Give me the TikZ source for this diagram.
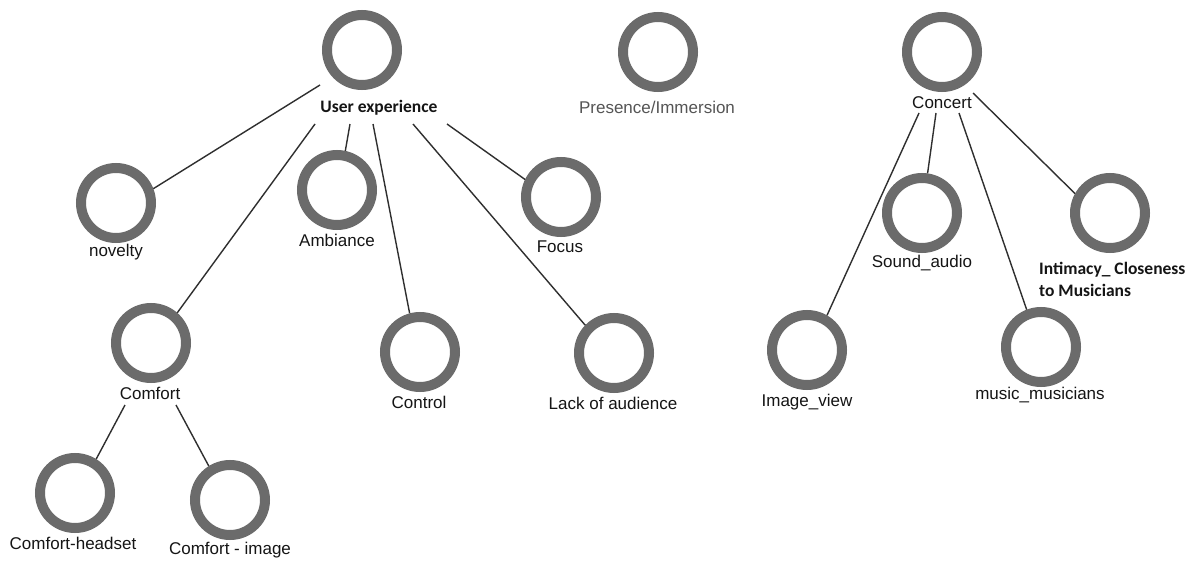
\documentclass[tikz,border=0pt]{standalone}
\usepackage{fontspec}
\setmainfont{Liberation Sans}
\newfontfamily\boldlabelfont{Carlito}[BoldFont=* Bold]
\definecolor{ringgray}{HTML}{6B6B6B}
\definecolor{linkgray}{HTML}{2F2F2F}
\definecolor{textdark}{HTML}{151515}
\definecolor{textsoft}{HTML}{555555}
\begin{document}
\begin{tikzpicture}[x=1pt,y=-1pt,
  ring/.style={circle,draw=ringgray,line width=10pt,minimum size=70pt,inner sep=0pt,fill=white},
  lbl/.style={inner sep=0pt,text=textdark,font=\fontsize{17}{20}\selectfont},
  blbl/.style={inner sep=0pt,text=textdark,font=\boldlabelfont\bfseries\fontsize{17.5}{22}\selectfont},
  link/.style={draw=linkgray,line width=1.4pt}]
\useasboundingbox[fill=white] (0,0) rectangle (1197,562);

% top row
\node[ring] (ux) at (362,50) {};
\node[blbl] (uxl) at (379,108) {User experience};
\node[ring] (pres) at (658,52) {};
\node[lbl,text=textsoft] (presl) at (657,107) {Presence/Immersion};
\node[ring] (conc) at (942,52) {};
\node[lbl] (concl) at (942,103) {Concert};

% user experience branch
\node[ring] (nov) at (116,203) {};
\node[lbl] (novl) at (116,252) {novelty};
\node[ring] (amb) at (337,190) {};
\node[lbl] (ambl) at (337,240) {Ambiance};
\node[ring] (foc) at (561,197) {};
\node[lbl] (focl) at (560,247) {Focus};
\node[ring] (com) at (151,343) {};
\node[lbl] (coml) at (150,393) {Comfort};
\node[ring] (ctl) at (420,352) {};
\node[lbl] (ctll) at (419,402) {Control};
\node[ring] (lack) at (614,353) {};
\node[lbl] (lackl) at (613,403) {Lack of audience};
\node[ring] (hs) at (75,493) {};
\node[lbl] (hsl) at (73,543) {Comfort-headset};
\node[ring] (ci) at (230,500) {};
\node[lbl] (cil) at (230,550) {Comfort - image};

% concert branch
\node[ring] (img) at (807,350) {};
\node[lbl] (imgl) at (807,402) {Image\_view};
\node[ring] (snd) at (922,213) {};
\node[lbl] (sndl) at (922,263) {Sound\_audio};
\node[ring] (mus) at (1041,347) {};
\node[lbl] (musl) at (1040,395) {music\_musicians};
\node[ring] (int) at (1110,213) {};
\node[blbl,anchor=west,align=left] (intl) at (1039,279) {Intimacy\_ Closeness\\to Musicians};

% connectors
\draw[link] ([shift={(-59,-23)}]uxl.center) -- (nov.21);
\draw[link] ([shift={(-64,16)}]uxl.center) -- (com.49);
\draw[link] ([shift={(-29,16)}]uxl.center) -- (amb.78);
\draw[link] ([shift={(-6,16)}]uxl.center) -- (ctl.105);
\draw[link] ([shift={(34,16)}]uxl.center) -- (lack.136);
\draw[link] ([shift={(68,16)}]uxl.center) -- (foc.154);

\draw[link] ([shift={(-25,12)}]coml.center) -- (hs.58);
\draw[link] ([shift={(26,12)}]coml.center) -- (ci.122);

\draw[link] ([shift={(-23,10)}]concl.center) -- (img.60);
\draw[link] ([shift={(-6,10)}]concl.center) -- (snd.82);
\draw[link] ([shift={(17,10)}]concl.center) -- (mus.111);
\draw[link] ([shift={(31,-10)}]concl.center) -- (int.151);
\end{tikzpicture}
\end{document}
